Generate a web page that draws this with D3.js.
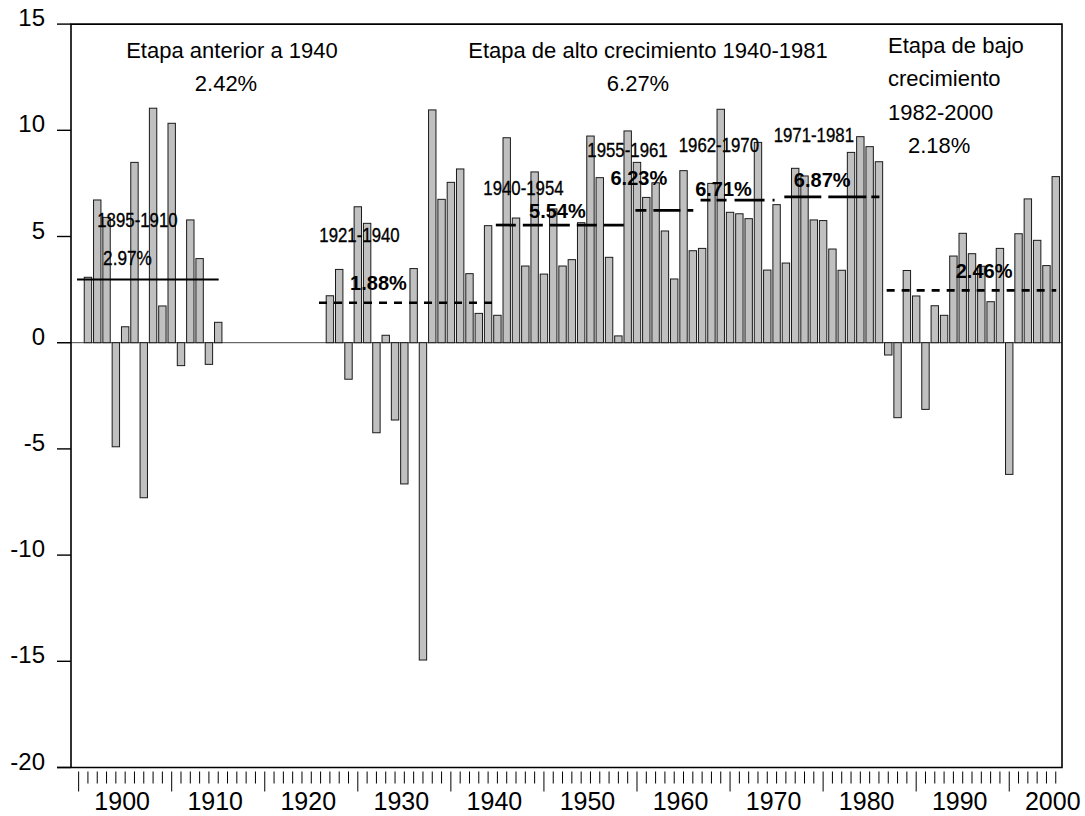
<!DOCTYPE html>
<html><head><meta charset="utf-8">
<script src="https://cdn.jsdelivr.net/npm/d3@7"></script>
<style>
body{margin:0;background:#fff;}
svg text{font-family:"Liberation Sans",Arial,sans-serif;fill:#000;}
svg text.nar{stroke:#000;stroke-width:0.35px;}
</style></head><body>
<svg id="c" width="1085" height="816"></svg>
<script>
// ---------- data ----------
const years1 = d3.range(1896, 1911);
const growth1 = [3.08, 6.72, 5.9, -4.90, 0.75, 8.49, -7.30, 11.04, 1.73, 10.33, -1.08, 5.78, 3.96, -1.02, 0.96];
const years2 = d3.range(1922, 2001);
const growth2 = [
  2.21, 3.45, -1.72, 6.40, 5.62, -4.24, 0.35, -3.64, -6.65, 3.49, -14.94, 10.96, 6.75, 7.55, 8.18, 3.25, 1.38, 5.51, 1.29, // 1922-1940
  9.65, 5.87, 3.61, 8.04, 3.23, 6.3, 3.61, 3.91, 5.65, 9.73, 7.77, 4.02, 0.32, 9.97,   // 1941-1954
  8.49, 6.84, 7.53, 5.26, 3.00, 8.10, 4.33,                                           // 1955-1961
  4.44, 7.50, 10.99, 6.14, 6.07, 5.84, 9.43, 3.42, 6.50,                              // 1962-1970
  3.75, 8.21, 7.85, 5.78, 5.75, 4.41, 3.41, 8.96, 9.70, 9.23, 8.52,                   // 1971-1981
  -0.58, -3.53, 3.40, 2.20, -3.14, 1.74, 1.29, 4.08, 5.15, 4.19, 3.6, 1.93, 4.44, -6.2, 5.13, 6.77, 4.82, 3.63, 7.82 // 1982-2000
];
const periodLabels = ["1895-1910", "1921-1940", "1940-1954", "1955-1961", "1962-1970", "1971-1981", ""];
const periodStart = [1895, 1921, 1940, 1955, 1962, 1971, 1982];
const periodEnd = [1910, 1940, 1954, 1961, 1970, 1981, 2000];
const periodMean = [2.97, 1.88, 5.54, 6.23, 6.71, 6.87, 2.46];
const stageLines = [["Etapa anterior a 1940", "2.42%"], ["Etapa de alto crecimiento 1940-1981", "6.27%"], ["Etapa de bajo", "crecimiento", "1982-2000", "2.18%"]];
const yTicks = [15, 10, 5, 0, -5, -10, -15, -20];
const xTickLabels = d3.range(1900, 2001, 10);
const xTickYears = d3.range(1895, 2001);

// ---------- layout ----------
const svg = d3.select("#c");
const L = 71, R = 1062, T = 24.1, B = 767.5;
const x = d3.scaleLinear().domain([1894.18, 2000.67]).range([L, R]);
const y = d3.scaleLinear().domain([-20, 15]).range([B, T]);
const barW = 7.4;

const bars = years1.map((yr, i) => ({yr, v: growth1[i]}))
  .concat(years2.map((yr, i) => ({yr, v: growth2[i]})));

// zero line
svg.append("line").attr("x1", L - 14).attr("x2", R).attr("y1", y(0)).attr("y2", y(0))
  .attr("stroke", "#444").attr("stroke-width", 1);

// bars
svg.append("g").selectAll("rect").data(bars).join("rect")
  .attr("x", d => x(d.yr) - barW / 2)
  .attr("width", barW)
  .attr("y", d => Math.min(y(d.v), y(0)))
  .attr("height", d => Math.abs(y(d.v) - y(0)))
  .attr("fill", "#c0c0c0").attr("stroke", "#1a1a1a").attr("stroke-width", 1);

// mean lines
const dashes = [null, "8,7", "20,7", "11,7,27,7", "10,6,10,8,30,8,2,8", "37,7,38,5,9,7", "8,7"];
svg.append("g").selectAll("line").data(periodMean).join("line")
  .attr("x1", (d, i) => x(periodStart[i] - 0.17))
  .attr("x2", (d, i) => x(periodEnd[i] + 0.05))
  .attr("y1", d => y(d)).attr("y2", d => y(d))
  .attr("stroke", "#000").attr("stroke-width", (d, i) => i === 0 ? 2 : 2.7)
  .attr("stroke-dasharray", (d, i) => dashes[i]);

// period labels (narrow type: Liberation Sans compressed horizontally)
const labelPos = [[1901.32, 5.45], [1925.18, 4.74], [1942.8, 6.95], [1953.98, 8.74], [1963.8, 8.98], [1974.0, 9.45]];
const pctPos = [[1900.25, 3.66], [1927.22, 2.48], [1946.45, 5.87], [1955.2, 7.42], [1964.3, 6.90], [1974.9, 7.33], [1992.3, 3.05]];
svg.append("g").selectAll("text").data(periodLabels.filter(s => s)).join("text")
  .attr("class", "nar")
  .attr("transform", (d, i) => `translate(${x(labelPos[i][0])},${y(labelPos[i][1])}) scale(0.82,1)`)
  .attr("text-anchor", "middle").attr("font-size", 20.5).text(d => d);
svg.append("g").selectAll("text").data(periodMean).join("text")
  .attr("class", (d, i) => i === 0 ? "nar" : null)
  .attr("transform", (d, i) => `translate(${x(pctPos[i][0])},${y(pctPos[i][1])})` + (i === 0 ? " scale(0.82,1)" : ""))
  .attr("text-anchor", "middle")
  .attr("font-size", (d, i) => i === 0 ? 21 : 20)
  .attr("font-weight", (d, i) => i === 0 ? "normal" : "bold")
  .text(d => d.toFixed(2) + "%");

// stage labels
const stagePos = [
  {anchor: "middle", pts: [[232, 58], [226, 91]]},
  {anchor: "middle", pts: [[648, 58], [638, 91]]},
  {anchor: "start", pts: [[888, 53], [888, 86], [888, 120], [908, 153]]}
];
stageLines.forEach((lines, k) => {
  lines.forEach((s, j) => {
    svg.append("text").attr("x", stagePos[k].pts[j][0]).attr("y", stagePos[k].pts[j][1])
      .attr("text-anchor", stagePos[k].anchor).attr("font-size", 22).text(s);
  });
});

// frame
svg.append("path")
  .attr("d", `M${L},${B} L${L},${T} L${R},${T} L${R},${B} L${L - 14},${B}`)
  .attr("fill", "none").attr("stroke", "#000").attr("stroke-width", 1.6);

// y axis ticks + labels
const ya = svg.append("g");
ya.selectAll("line").data(yTicks).join("line")
  .attr("x1", L - 14).attr("x2", L).attr("y1", d => y(d)).attr("y2", d => y(d))
  .attr("stroke", "#000").attr("stroke-width", 1.4);
ya.selectAll("text").data(yTicks).join("text")
  .attr("x", 45).attr("y", d => y(d) + 2).attr("text-anchor", "end")
  .attr("font-size", 24).text(d => d);

// x axis ticks + labels
const xa = svg.append("g");
xa.selectAll("line").data(xTickYears).join("line")
  .attr("x1", d => x(d)).attr("x2", d => x(d))
  .attr("y1", B + 4).attr("y2", d => d % 10 === 5 ? B + 24 : B + 16)
  .attr("stroke", "#000").attr("stroke-width", 1);
xa.selectAll("text").data(xTickLabels).join("text")
  .attr("x", d => x(d) - 3).attr("y", 810).attr("text-anchor", "middle")
  .attr("font-size", 25).text(d => d);
</script>
</body></html>
